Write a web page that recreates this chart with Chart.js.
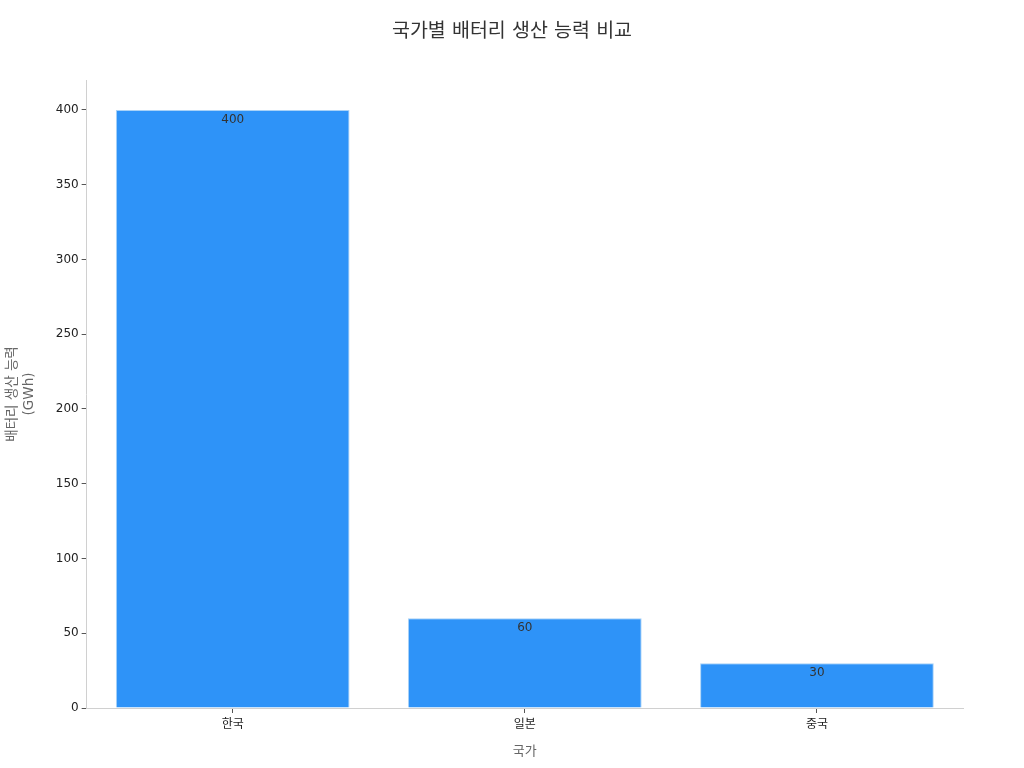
<!DOCTYPE html>
<html>
<head>
<meta charset="utf-8">
<script src="https://cdn.jsdelivr.net/npm/chart.js@4/dist/chart.umd.min.js"></script>
<style>
    html, body { margin: 0; padding: 0; background: #fff; }
    #wrap { width: 1024px; height: 768px; }
</style>
</head>
<body>
<div id="wrap"><canvas id="capacityChart" width="1024" height="768"></canvas></div>
<script>
// 국가별 배터리 생산 능력 (GWh)
const countries = ['한국', '일본', '중국'];
const capacity = [400, 60, 30];
const yTicks = [0, 50, 100, 150, 200, 250, 300, 350, 400];

const FONT = "'DejaVu Sans', 'Noto Sans CJK KR', sans-serif";
const TITLE = '국가별 배터리 생산 능력 비교';

// title centred on the whole canvas, not just the plot box
const pageTitle = {
    id: 'pageTitle',
    afterDraw(chart) {
        const ctx = chart.ctx;
        ctx.save();
        ctx.font = '19.5px ' + FONT;
        ctx.fillStyle = '#333';
        ctx.textAlign = 'center';
        ctx.textBaseline = 'middle';
        ctx.fillText(TITLE, chart.width / 2, 32);
        ctx.restore();
    }
};

// value labels just inside the top of each bar
const barLabels = {
    id: 'barLabels',
    afterDatasetsDraw(chart) {
        const ctx = chart.ctx;
        const meta = chart.getDatasetMeta(0);
        ctx.save();
        ctx.font = '12px ' + FONT;
        ctx.fillStyle = '#333';
        ctx.textAlign = 'center';
        ctx.textBaseline = 'middle';
        meta.data.forEach((bar, i) => {
            ctx.fillText(String(capacity[i]), bar.x, bar.y + 10);
        });
        ctx.restore();
    }
};

document.addEventListener('DOMContentLoaded', function() {
    const ctx = document.getElementById('capacityChart').getContext('2d');
    new Chart(ctx, {
        type: 'bar',
        data: {
            labels: countries,
            datasets: [{
                label: '생산 능력',
                data: capacity,
                backgroundColor: '#2E93F8',
                borderColor: '#A9D2F7',
                borderWidth: 1,
                barPercentage: 0.8,
                categoryPercentage: 1.0
            }]
        },
        options: {
            responsive: false,
            animation: false,
            layout: { padding: { left: 4, right: 61, top: 80, bottom: 2 } },
            plugins: {
                legend: { display: false },
                tooltip: { enabled: false },
                title: { display: false }
            },
            scales: {
                x: {
                    grid: { offset: false, drawOnChartArea: false, drawTicks: true, tickLength: 5, tickColor: '#555' },
                    border: { color: '#d0d0d0' },
                    ticks: { color: '#222', font: { family: FONT, size: 12 }, padding: 5 },
                    title: {
                        display: true,
                        text: '국가',
                        color: '#666',
                        font: { family: FONT, size: 13 },
                        padding: { top: 6, bottom: 7 }
                    }
                },
                y: {
                    min: 0,
                    max: 420,
                    afterBuildTicks(scale) {
                        scale.ticks = yTicks.map(v => ({ value: v }));
                    },
                    grid: { drawOnChartArea: false, drawTicks: true, tickLength: 5, tickColor: '#555' },
                    border: { color: '#d0d0d0' },
                    ticks: { color: '#222', font: { family: FONT, size: 12 }, padding: 3 },
                    title: {
                        display: true,
                        text: ['배터리 생산 능력', '(GWh)'],
                        color: '#666',
                        font: { family: FONT, size: 13.5, lineHeight: 1.25 },
                        padding: { top: 0, bottom: 15 }
                    }
                }
            }
        },
        plugins: [barLabels, pageTitle]
    });
});
</script>
</body>
</html>
